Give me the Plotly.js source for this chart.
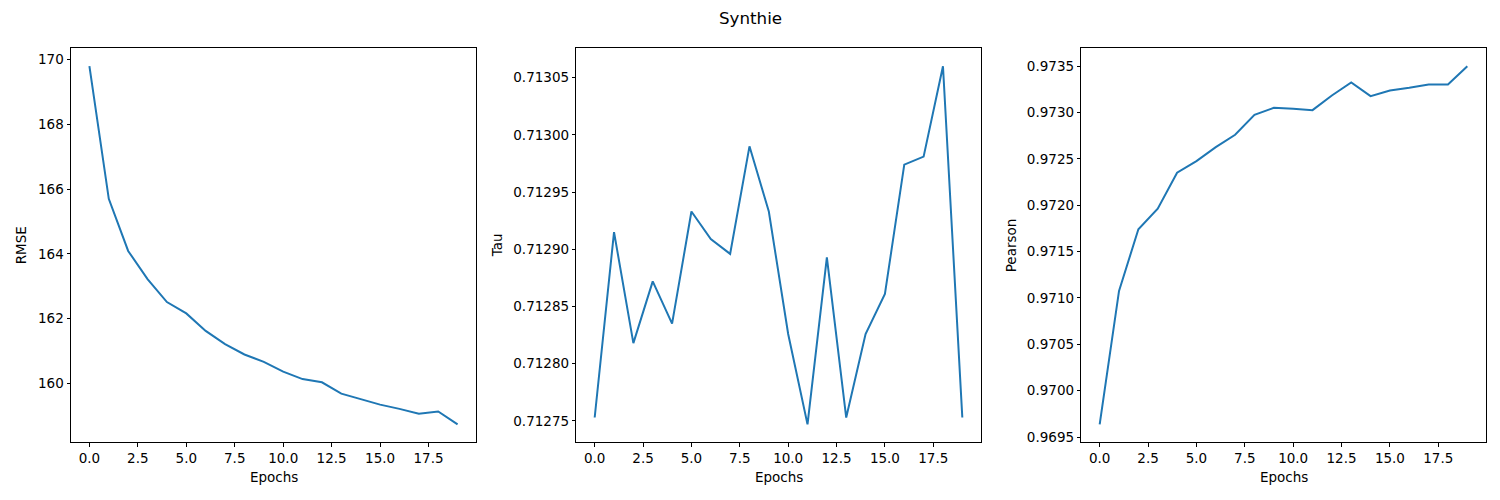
<!DOCTYPE html>
<html>
<head>
<meta charset="utf-8">
<script src="https://cdn.plot.ly/plotly-3.0.1.min.js"></script>
<style>html,body{margin:0;padding:0;background:#fff;}#chart{width:1500px;height:500px;}</style>
</head>
<body>
<div id="chart"></div>
<script>
const epochs = [0,1,2,3,4,5,6,7,8,9,10,11,12,13,14,15,16,17,18,19];
const rmse = [169.80,165.70,164.09,163.22,162.51,162.16,161.62,161.21,160.89,160.66,160.36,160.13,160.03,159.68,159.51,159.34,159.21,159.06,159.13,158.73];
const tau = [0.712753,0.712915,0.712818,0.712872,0.712835,0.712933,0.712909,0.712896,0.712990,0.712933,0.712826,0.712747,0.712893,0.712753,0.712826,0.712861,0.712974,0.712981,0.713060,0.712753];
const pearson = [0.969636,0.971076,0.971741,0.971963,0.972351,0.972477,0.972627,0.972760,0.972976,0.973051,0.973040,0.973026,0.973184,0.973324,0.973177,0.973238,0.973267,0.973303,0.973303,0.973500];
const yTitles = ["RMSE","Tau","Pearson"];
const xTitle = "Epochs";
const figTitle = "Synthie";

function padRange(arr){
  const mn = Math.min(...arr), mx = Math.max(...arr);
  const d = (mx - mn) * 0.05;
  return [mn - d, mx + d];
}

const W = 1500, H = 500;
const boxes = [[71,476],[576.3,980.7],[1081.3,1485.7]];
const boxTop = 48.3, boxBot = 442.3;
const font = {family: "DejaVu Sans, sans-serif", size: 13.5, color: "#000"};
const series = [rmse, tau, pearson];
const yfmt = [{dtick:2, tick0:160, fmt:"d"},{dtick:0.00005, tick0:0.71275, fmt:".5f"},{dtick:0.0005, tick0:0.9695, fmt:".4f"}];

const data = series.map((s,i)=>({
  x: epochs, y: s, type: "scatter", mode: "lines",
  line: {color: "#1f77b4", width: 2},
  xaxis: i===0 ? "x" : "x"+(i+1),
  yaxis: i===0 ? "y" : "y"+(i+1),
  hoverinfo: "skip"
}));

const layout = {
  width: W, height: H,
  margin: {l:0, r:0, t:0, b:0},
  paper_bgcolor: "#fff", plot_bgcolor: "#fff",
  showlegend: false,
  font: font,
  annotations: [
    {text: figTitle, xref:"paper", yref:"paper", x: 750/W, y: 1-18.3/H, xanchor:"center", yanchor:"middle", showarrow:false, font:{family:font.family, size:16.7, color:"#000"}}
  ]
};
const ylabelX = [21, 497, 1011];
boxes.forEach((b,i)=>{
  const sx = i===0 ? "" : String(i+1);
  layout["xaxis"+sx] = {
    domain: [b[0]/W, b[1]/W], anchor: "y"+sx, range: [-0.95, 19.95],
    tickmode: "linear", tick0: 0, dtick: 2.5, tickformat: ".1f",
    ticks: "outside", ticklen: 3.5, tickwidth: 1, tickcolor: "#000",
    showline: true, linecolor: "#000", linewidth: 1, mirror: true,
    showgrid: false, zeroline: false, tickfont: font
  };
  layout["yaxis"+sx] = {
    domain: [1-boxBot/H, 1-boxTop/H], anchor: "x"+sx, range: padRange(series[i]),
    tickmode: "linear", tick0: yfmt[i].tick0, dtick: yfmt[i].dtick, tickformat: yfmt[i].fmt,
    ticks: "outside", ticklen: 3.5, tickwidth: 1, tickcolor: "#000",
    showline: true, linecolor: "#000", linewidth: 1, mirror: true,
    showgrid: false, zeroline: false, tickfont: font
  };
  layout.annotations.push({text: xTitle, xref:"paper", yref:"paper", x: (b[0]+b[1])/2/W, y: 1-477/H, xanchor:"center", yanchor:"middle", showarrow:false, font: font});
  layout.annotations.push({text: yTitles[i], xref:"paper", yref:"paper", x: ylabelX[i]/W, y: 1-(boxTop+boxBot)/2/H, xanchor:"center", yanchor:"middle", textangle:-90, showarrow:false, font: font});
});

Plotly.newPlot("chart", data, layout, {staticPlot: true, displayModeBar: false});
</script>
</body>
</html>
